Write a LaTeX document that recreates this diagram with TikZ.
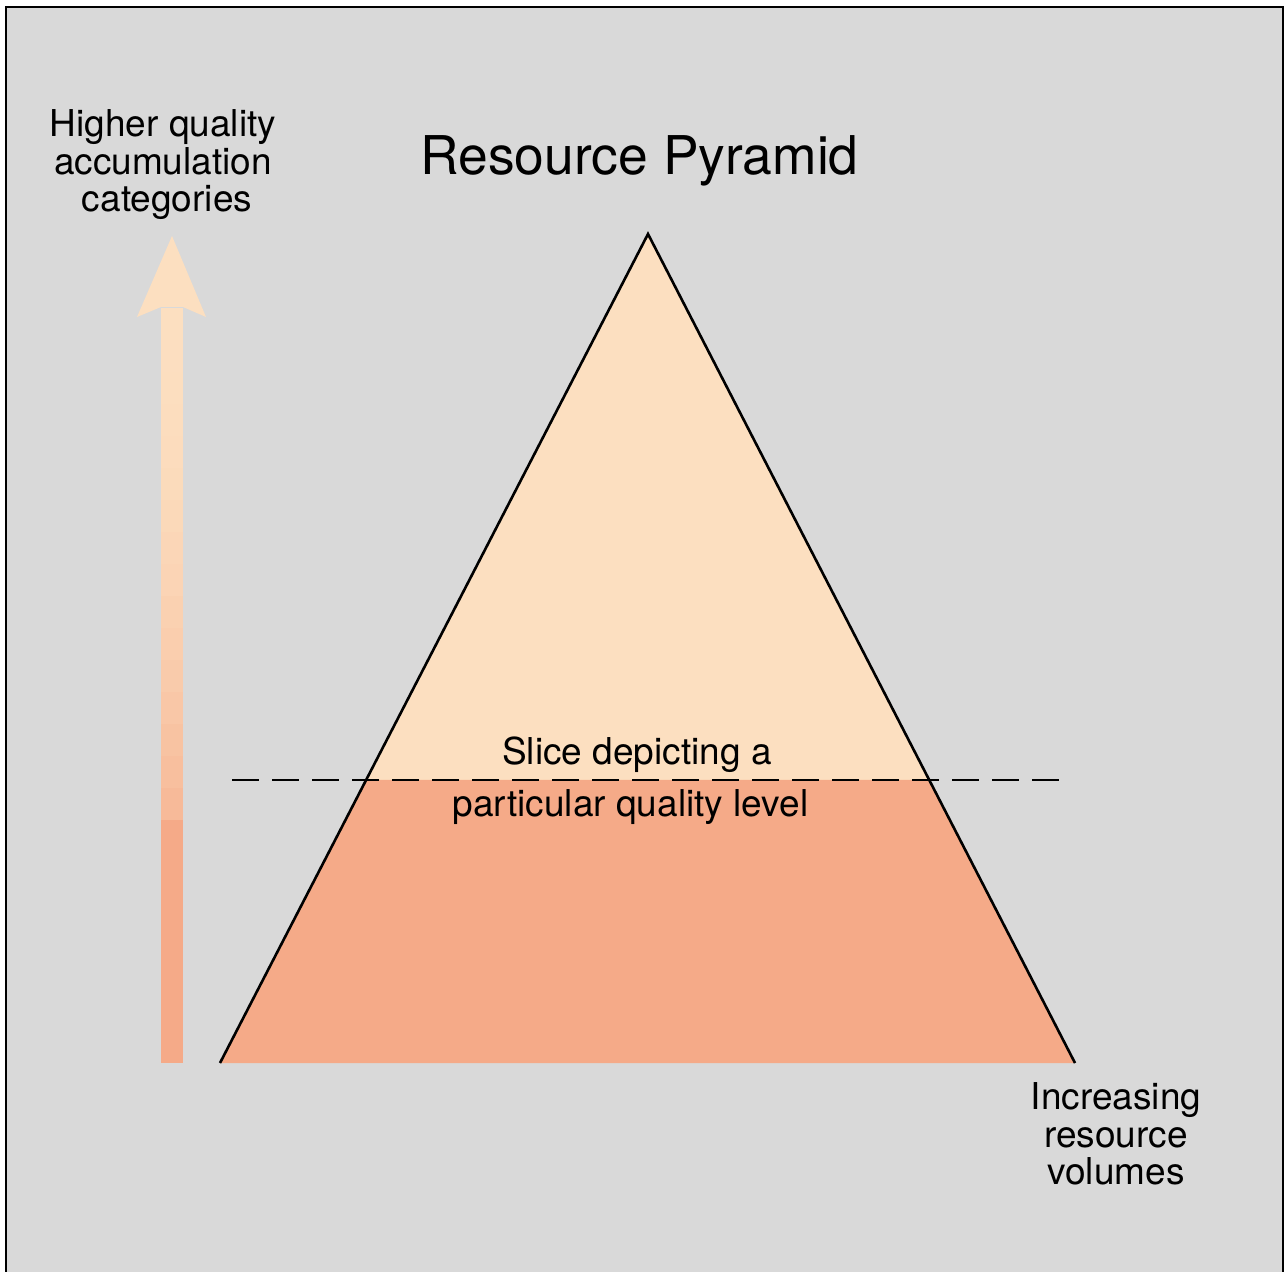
\documentclass[tikz,border=0pt]{standalone}
\usepackage{fontspec}
\setmainfont{TeX Gyre Heros}
\usetikzlibrary{calc}
\definecolor{panelgray}{HTML}{D9D9D9}
\definecolor{peachlight}{HTML}{FCDFC0}
\definecolor{peachdark}{HTML}{F5AA88}
\tikzset{
  axislabel/.style={font=\fontsize{18.5}{18.75}\selectfont, align=center, inner sep=0pt},
  slicetext/.style={font=\fontsize{18.5}{18.75}\selectfont, inner sep=0pt, anchor=base},
  edge/.style={line width=1.3pt, line join=miter}
}
\begin{document}
\begin{tikzpicture}[x=0.5pt, y=-0.5pt]
        \useasboundingbox (0,0) rectangle (1284,1272);
        % Panel
        \fill[panelgray] (6,7) rectangle (1283,1272);
        \draw[line width=1.3pt] (6,1272) -- (6,7) -- (1283,7) -- (1283,1272);

        % Pyramid
        \coordinate (apex) at (648,234);
        \coordinate (baseL) at (220,1063);
        \coordinate (baseR) at (1075,1063);
        \coordinate (sliceL) at ($(baseL)!0.3414!(apex)$);
        \coordinate (sliceR) at ($(baseR)!0.3414!(apex)$);
        \fill[peachlight] (apex) -- (sliceL) -- (sliceR) -- cycle;
        \fill[peachdark] (sliceL) -- (baseL) -- (baseR) -- (sliceR) -- cycle;
        \draw[edge] (baseL) -- (apex) -- (baseR);

        % Slice line
        \coordinate (dashL) at (232,780);
        \coordinate (dashR) at (1060,780);
        \draw[line width=1.2pt, dash pattern=on 13.5pt off 6.5pt] (dashL) -- (dashR);
        \node[slicetext] (sliceTop) at (637,764) {Slice depicting a};
        \node[slicetext] (sliceBottom) at (630.5,816) {particular quality level};

        % Quality arrow
        \fill[peachdark] (161,817) rectangle (183,1063);
        \foreach \k in {0,...,15} {
          \pgfmathtruncatemacro\mix{100-70*(1-\k/15)^2}
          \fill[peachlight!\mix!peachdark] (161,{820-32*(\k+1)}) rectangle (183,{820-32*\k});
        }
        \fill[peachlight] (172,236) -- (206,317) -- (183,307) -- (161,307) -- (137,317) -- cycle;

        % Labels
        \node[font=\fontsize{26.7}{30}\selectfont, inner sep=0pt, anchor=base] (title) at (639.5,175) {Resource Pyramid};
        \node[axislabel] (qualityLabel) at (163,165) {Higher quality\\accumulation\\\hspace*{4pt}categories};
        \node[axislabel] (volumeLabel) at (1116,1134) {Increasing\\resource\\volumes};
    \end{tikzpicture}
\end{document}
